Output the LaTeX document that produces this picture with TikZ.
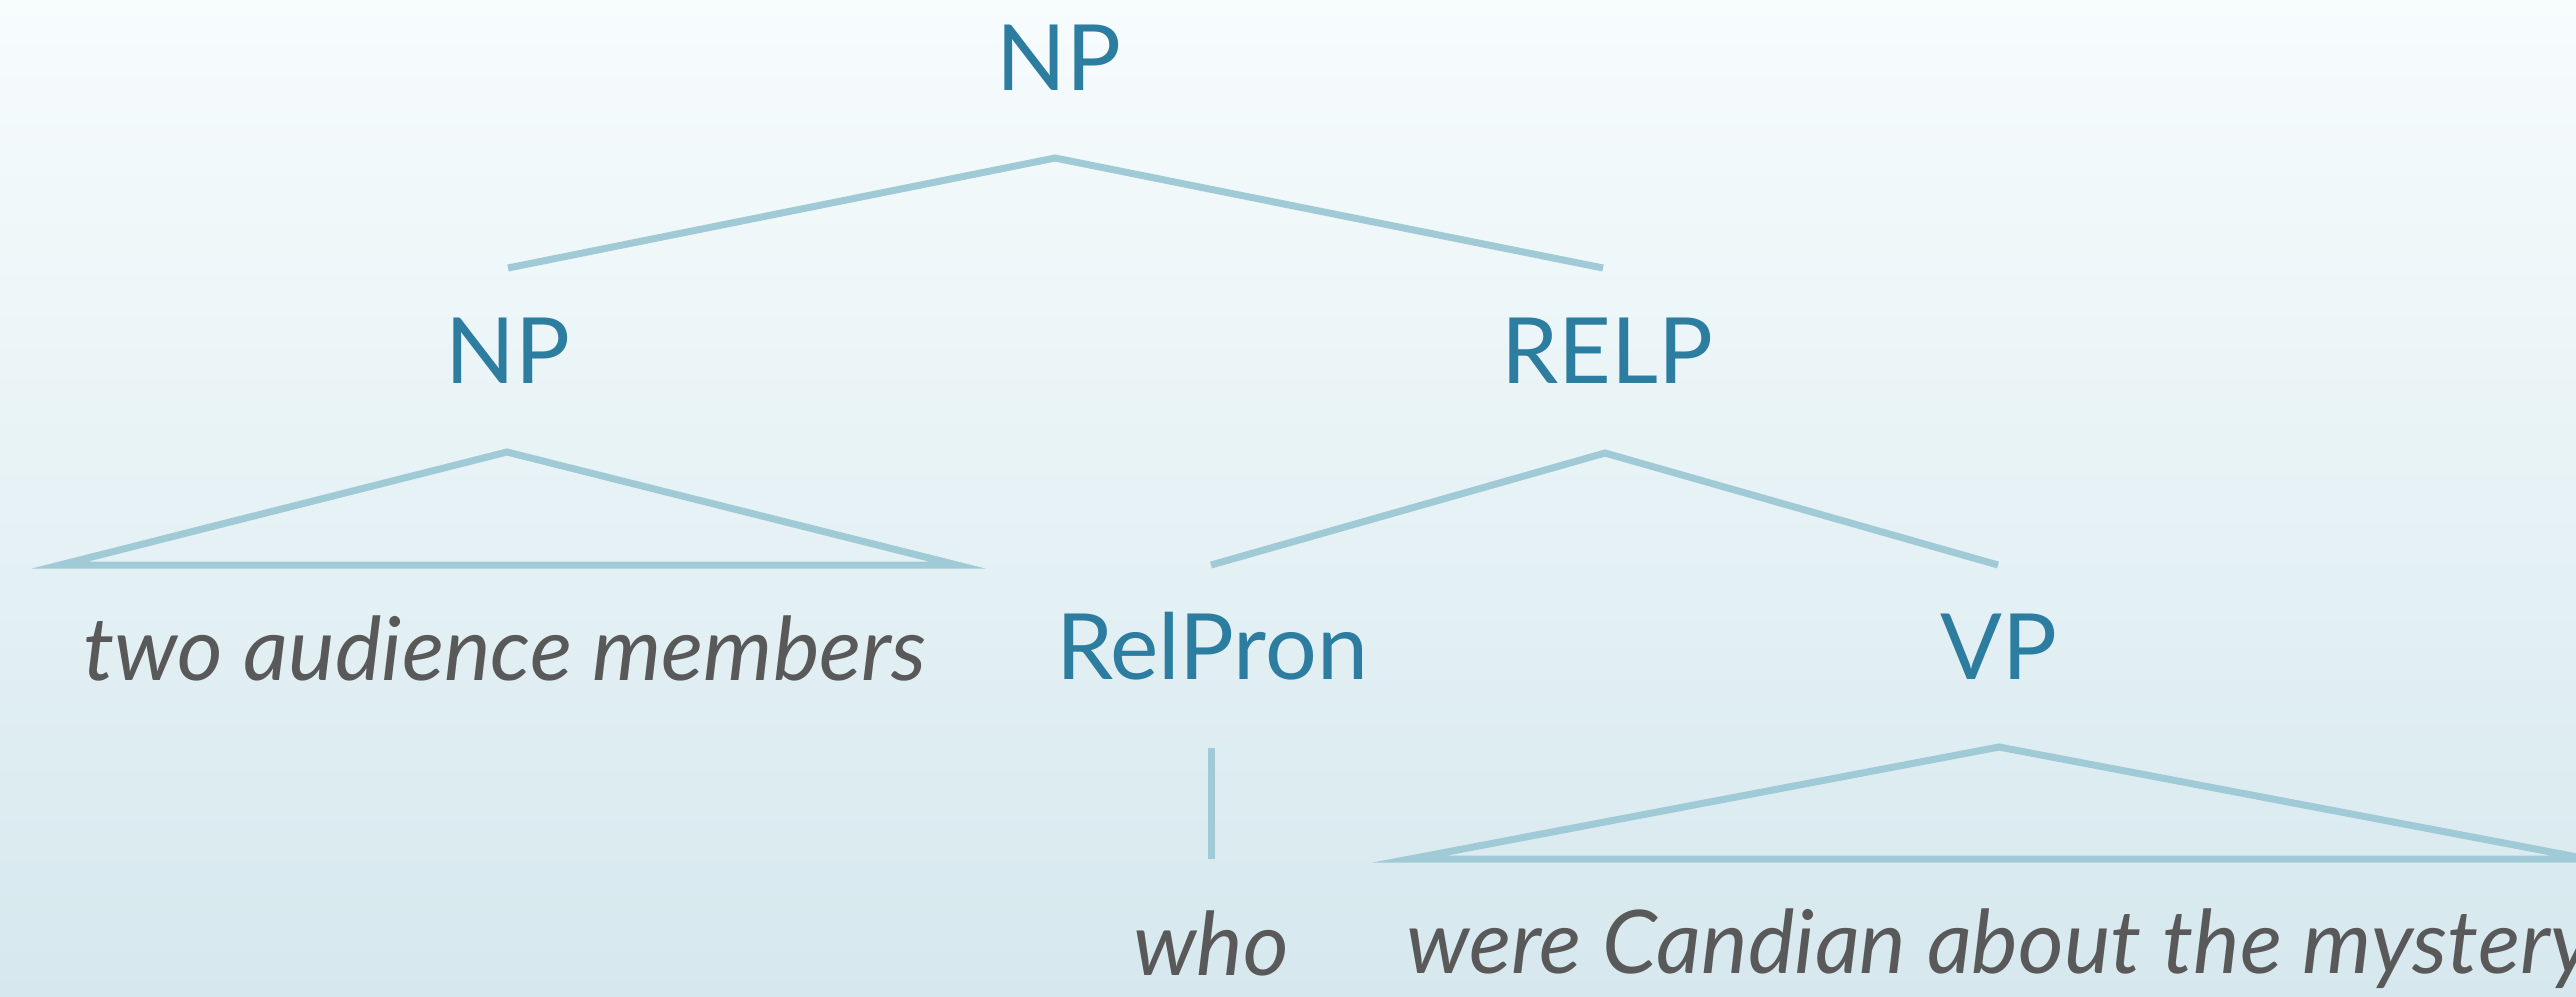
\documentclass[tikz,border=0pt]{standalone}
\usepackage{fontspec}
\setmainfont{Lato}
\definecolor{labc}{HTML}{2C7DA0}
\definecolor{wordc}{HTML}{595959}
\definecolor{edgec}{HTML}{A0CAD6}
\definecolor{bgtop}{HTML}{F7FCFD}
\definecolor{bgbot}{HTML}{D6E8EE}
\begin{document}
\begin{tikzpicture}[x=0.01cm,y=-0.01cm,
  lab/.style={font=\fontsize{26}{30}\selectfont, text=labc, inner sep=0pt, anchor=base},
  word/.style={font=\fontsize{25}{30}\selectfont\itshape, text=wordc, inner sep=0pt, anchor=base},
  edge/.style={draw=edgec, line width=2pt, miter limit=12}]
\shade[top color=bgtop, bottom color=bgbot] (0,0) rectangle (2576,996);
\useasboundingbox (0,0) rectangle (2576,996);
\clip (0,0) rectangle (2576,996);
% nodes
\node[lab] (np0) at (1059,90) {NP};
\node[lab] (np1) at (508,383) {NP};
\node[lab] (relp) at (1607,383) {RELP};
\node[lab] (relpron) at (1212,679) {RelPron};
\node[lab] (vp) at (1999,679) {VP};
\node[word] (w1) at (505,680) {two audience members};
\node[word] (w2) at (1211,975) {who};
\node[word] (w3) at (1999,973) {were Candian about the mystery};
% connector ends
\coordinate (np0s) at (1055,158);
\coordinate (np1n) at (508,268);
\coordinate (relpn) at (1603,268);
\coordinate (np1s) at (507,452);
\coordinate (w1l) at (60,565);
\coordinate (w1r) at (957,565);
\coordinate (relps) at (1605,453);
\coordinate (relpronn) at (1211,565);
\coordinate (vpn) at (1998,565);
\coordinate (relprons) at (1211,748);
\coordinate (w2n) at (1211,859);
\coordinate (vps) at (1999,747);
\coordinate (w3l) at (1410,859);
\coordinate (w3r) at (2588,859);
% connectors
\draw[edge] (np1n) -- (np0s) -- (relpn);
\draw[edge] (np1s) -- (w1l) -- (w1r) -- cycle;
\draw[edge] (relpronn) -- (relps) -- (vpn);
\draw[edge] (relprons) -- (w2n);
\draw[edge] (vps) -- (w3l) -- (w3r) -- cycle;
\end{tikzpicture}
\end{document}
